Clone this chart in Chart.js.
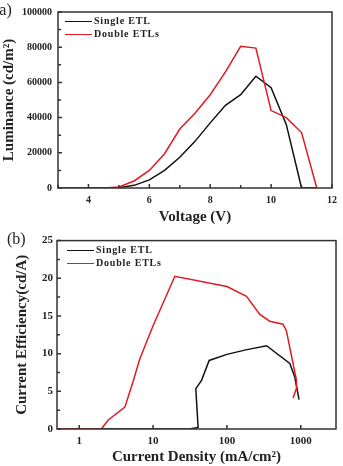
<!DOCTYPE html>
<html lang="en">
<head>
<meta charset="UTF-8">
<title>Luminance and Current Efficiency</title>
<script src="https://cdn.jsdelivr.net/npm/chart.js"></script>
<style>
    body { margin: 0; background: #fff; font-family: "Liberation Serif", serif; }
    #wrap { position: relative; width: 343px; height: 466px; overflow: hidden; }
    .panel { position: absolute; left: 0; width: 343px; }
    .tag { position: absolute; font-size: 16px; color: #222; }
    .legend { position: absolute; font-weight: bold; font-size: 10px; letter-spacing: 0.8px; color: #222; }
    .legend div { height: 13px; line-height: 13px; white-space: nowrap; }
    .legend span { display: inline-block; width: 27px; height: 0; border-top: 1.5px solid; vertical-align: middle; margin-right: 2px; }
</style>
</head>
<body>
<div id="wrap">
    <div class="panel" style="top:0;height:230px"><canvas id="lumChart" width="343" height="230"></canvas></div>
    <div class="panel" style="top:230px;height:236px"><canvas id="effChart" width="343" height="236"></canvas></div>
    <div class="tag" style="left:-6px;top:1px">(a)</div>
    <div class="tag" style="left:7px;top:230px">(b)</div>
    <div class="legend" style="left:65px;top:14px">
        <div><span style="border-color:#111"></span>Single ETL</div>
        <div><span style="border-color:#e01b22"></span>Double ETLs</div>
    </div>
    <div class="legend" style="left:67px;top:243px">
        <div><span style="border-color:#111"></span>Single ETL</div>
        <div><span style="border-color:#e01b22"></span>Double ETLs</div>
    </div>
</div>
<script>
    // (a) luminance vs voltage
    const voltage = [3, 3.5, 4, 4.5, 5, 5.5, 6, 6.5, 7, 7.5, 8, 8.5, 9, 9.5, 10, 10.5, 11, 11.5];
    const lumSingle = [0, 0, 0, 0, 200, 1500, 4600, 10000, 17500, 26500, 37000, 47000, 53000, 63500, 57000, 36000, 0, 0];
    const lumDouble = [0, 0, 0, 0, 600, 4000, 10000, 19500, 33500, 42500, 53000, 66000, 80500, 79500, 44000, 40000, 31500, 0];

    // (b) current efficiency vs current density
    const densSingle = [0.5, 31, 40.7, 37.9, 45.3, 57.5, 100, 180, 344, 710, 830, 948];
    const effSingle = [0, 0, 0.2, 5.35, 6.45, 9.1, 9.9, 10.5, 11.05, 8.7, 6.9, 3.9];
    const densDouble = [0.5, 2.0, 2.1, 2.47, 4.15, 5.4, 6.6, 10, 19.7, 100, 184, 279, 380, 575, 640, 749, 875, 875, 787];
    const effDouble = [0, 0, 0.3, 1.2, 2.9, 6.4, 9.3, 13.7, 20.26, 18.9, 17.6, 15.2, 14.3, 13.9, 13.0, 9.7, 6.45, 5.4, 4.1];
    const densTicks = [1, 10, 100, 1000];

    const BLACK = '#111';
    const RED = '#e01b22';
    const tickFont = { family: 'Liberation Serif', weight: 'bold', size: 10 };
    const titleFont = { family: 'Liberation Serif', weight: 'bold', size: 15 };

    // frame box plus inward tick marks
    const frameTicks = {
        id: 'frameTicks',
        afterDraw(chart) {
            const { ctx, chartArea: a, scales } = chart;
            ctx.save();
            ctx.strokeStyle = '#333';
            ctx.lineWidth = 1.5;
            ctx.beginPath();
            scales.x.ticks.forEach(t => {
                const px = scales.x.getPixelForValue(t.value);
                const len = t.label ? 4 : 3;
                ctx.moveTo(px, a.bottom);
                ctx.lineTo(px, a.bottom - len);
            });
            scales.y.ticks.forEach(t => {
                const py = scales.y.getPixelForValue(t.value);
                const len = t.label ? 4 : 3;
                ctx.moveTo(a.left, py);
                ctx.lineTo(a.left + len, py);
            });
            ctx.stroke();
            ctx.strokeRect(a.left, a.top, a.right - a.left, a.bottom - a.top);
            ctx.restore();
        }
    };

    function toPoints(xs, ys) {
        return xs.map((x, i) => ({ x: x, y: ys[i] }));
    }

    new Chart(document.getElementById('lumChart'), {
        type: 'scatter',
        data: {
            datasets: [
                { label: 'Single ETL', data: toPoints(voltage, lumSingle), borderColor: BLACK, order: 1 },
                { label: 'Double ETLs', data: toPoints(voltage, lumDouble), borderColor: RED, order: 0 }
            ]
        },
        options: {
            responsive: false,
            animation: false,
            showLine: true,
            elements: { point: { radius: 0 }, line: { borderWidth: 1.5, tension: 0 } },
            layout: { padding: { top: 7, right: 11, left: 0, bottom: 0 } },
            plugins: { legend: { display: false }, tooltip: { enabled: false } },
            scales: {
                x: {
                    type: 'linear', min: 3, max: 12,
                    grid: { display: false, drawTicks: false },
                    border: { display: false },
                    ticks: { stepSize: 1, padding: 6, color: '#222', font: tickFont,
                        callback: v => (v % 2 === 0 ? String(v) : '') },
                    title: { display: true, text: 'Voltage (V)', color: '#222', font: titleFont, padding: { top: 0, bottom: 4 } },
                    afterFit: s => { s.height = 42; }
                },
                y: {
                    min: 0, max: 100000,
                    grid: { display: false, drawTicks: false },
                    border: { display: false },
                    ticks: { stepSize: 10000, padding: 6, color: '#222', font: tickFont,
                        callback: v => (v % 20000 === 0 ? String(v) : '') },
                    title: { display: true, text: 'Luminance (cd/m²)', color: '#222', font: titleFont, padding: { top: 0, bottom: 0 } },
                    afterFit: s => { s.width = 58; }
                }
            }
        },
        plugins: [frameTicks]
    });

    new Chart(document.getElementById('effChart'), {
        type: 'scatter',
        data: {
            datasets: [
                { label: 'Single ETL', data: toPoints(densSingle, effSingle), borderColor: BLACK, order: 1 },
                { label: 'Double ETLs', data: toPoints(densDouble, effDouble), borderColor: RED, order: 0 }
            ]
        },
        options: {
            responsive: false,
            animation: false,
            showLine: true,
            elements: { point: { radius: 0 }, line: { borderWidth: 1.5, tension: 0 } },
            layout: { padding: { top: 9, right: 7, left: 0, bottom: 0 } },
            plugins: { legend: { display: false }, tooltip: { enabled: false } },
            scales: {
                x: {
                    type: 'logarithmic', min: 0.5, max: 3000,
                    grid: { display: false, drawTicks: false },
                    border: { display: false },
                    afterBuildTicks: s => { s.ticks = densTicks.map(v => ({ value: v })); },
                    ticks: { padding: 6, color: '#222', font: { ...tickFont, size: 11 }, autoSkip: false,
                        callback: v => String(v) },
                    title: { display: true, text: 'Current Density (mA/cm²)', color: '#222', font: titleFont, padding: { top: 0, bottom: 0 } },
                    afterFit: s => { s.height = 37; }
                },
                y: {
                    min: 0, max: 25,
                    grid: { display: false, drawTicks: false },
                    border: { display: false },
                    ticks: { stepSize: 2.5, padding: 4, color: '#222', font: { ...tickFont, size: 11 },
                        callback: v => (v % 5 === 0 ? String(v) : '') },
                    title: { display: true, text: 'Current Efficiency(cd/A)', color: '#222', font: titleFont, padding: { top: 13, bottom: 0 } },
                    afterFit: s => { s.width = 57; }
                }
            }
        },
        plugins: [frameTicks]
    });
</script>
</body>
</html>
